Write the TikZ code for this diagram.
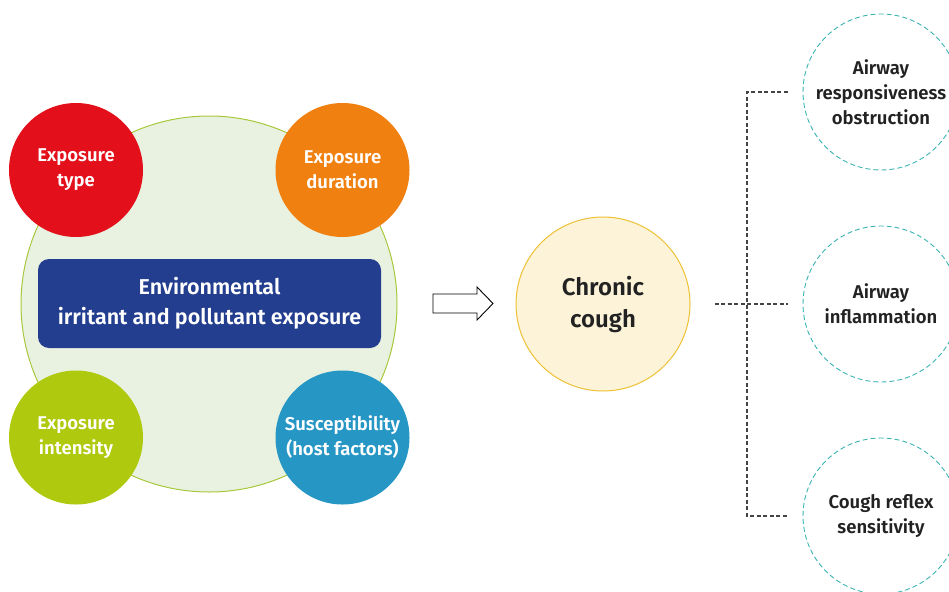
\documentclass[tikz,border=0pt]{standalone}
\usepackage{fontspec}
\setmainfont{Fira Sans}[BoldFont={Fira Sans SemiBold}]
\definecolor{cred}{HTML}{E30F1B}
\definecolor{corange}{HTML}{F0800F}
\definecolor{clime}{HTML}{AFC90E}
\definecolor{cblue}{HTML}{2696C4}
\definecolor{cnavy}{HTML}{233D8F}
\definecolor{cbigfill}{HTML}{E9F2E0}
\definecolor{cbigline}{HTML}{A8C83C}
\definecolor{ccoughfill}{HTML}{FDF3D9}
\definecolor{ccoughline}{HTML}{EEC033}
\definecolor{cteal}{HTML}{3BB3B3}
\definecolor{cdash}{HTML}{444444}
\definecolor{ctext}{HTML}{222222}
\begin{document}
\begin{tikzpicture}[x=1pt,y=-1pt,
  factor/.style={circle,minimum size=134pt,inner sep=0pt,align=center,text=white,
    font=\fontsize{18.5}{25}\selectfont\bfseries},
  outcome/.style={circle,minimum size=156pt,inner sep=0pt,align=center,text=ctext,
    draw=cteal,line width=0.9pt,dash pattern=on 5pt off 3pt,
    font=\fontsize{18.5}{25}\selectfont\bfseries},
  dashline/.style={draw=cdash,line width=1.2pt,dash pattern=on 4pt off 2.5pt}]
\useasboundingbox (0,0) rectangle (949,591);
\node[circle,minimum size=376pt,fill=cbigfill,draw=cbigline,line width=1pt] (big) at (209,304) {};
\node[factor,fill=cred] (type) at (76,170) {Exposure\\type};
\node[factor,fill=corange] (dur) at (342.5,170) {Exposure\\duration};
\node[factor,fill=clime] (int) at (76,437.5) {Exposure\\intensity};
\node[factor,fill=cblue] (sus) at (342.5,437.5) {Susceptibility\\(host factors)};
\node[rounded corners=11pt,fill=cnavy,minimum width=343pt,minimum height=89pt,align=center,text=white,
  font=\fontsize{21.5}{30}\selectfont\bfseries] (env) at (209.5,303.5) {Environmental\\irritant and pollutant exposure};
\draw[line width=0.9pt,fill=white] (433,294) -- (477,294) -- (477,287) -- (493,303.5) -- (477,320) -- (477,313) -- (433,313) -- cycle;
\node[circle,minimum size=174pt,inner sep=0pt,fill=ccoughfill,draw=ccoughline,line width=1pt,align=center,text=ctext,
  font=\fontsize{24}{32}\selectfont\bfseries] (cough) at (603,304) {Chronic\\cough};
\node[outcome] (o1) at (881,92) {Airway\\responsiveness\\obstruction};
\node[outcome] (o2) at (881,304) {Airway\\inflammation};
\node[outcome] (o3) at (881,516) {Cough reflex\\sensitivity};
\coordinate (jtop) at (747,92);
\coordinate (jbot) at (747,516);
\draw[dashline] ([xshift=24pt]cough.east) -- ([xshift=-15pt]o2.west);
\draw[dashline] ([xshift=-15pt]o1.west) -- (jtop) -- (jbot) -- ([xshift=-15pt]o3.west);
\end{tikzpicture}
\end{document}
